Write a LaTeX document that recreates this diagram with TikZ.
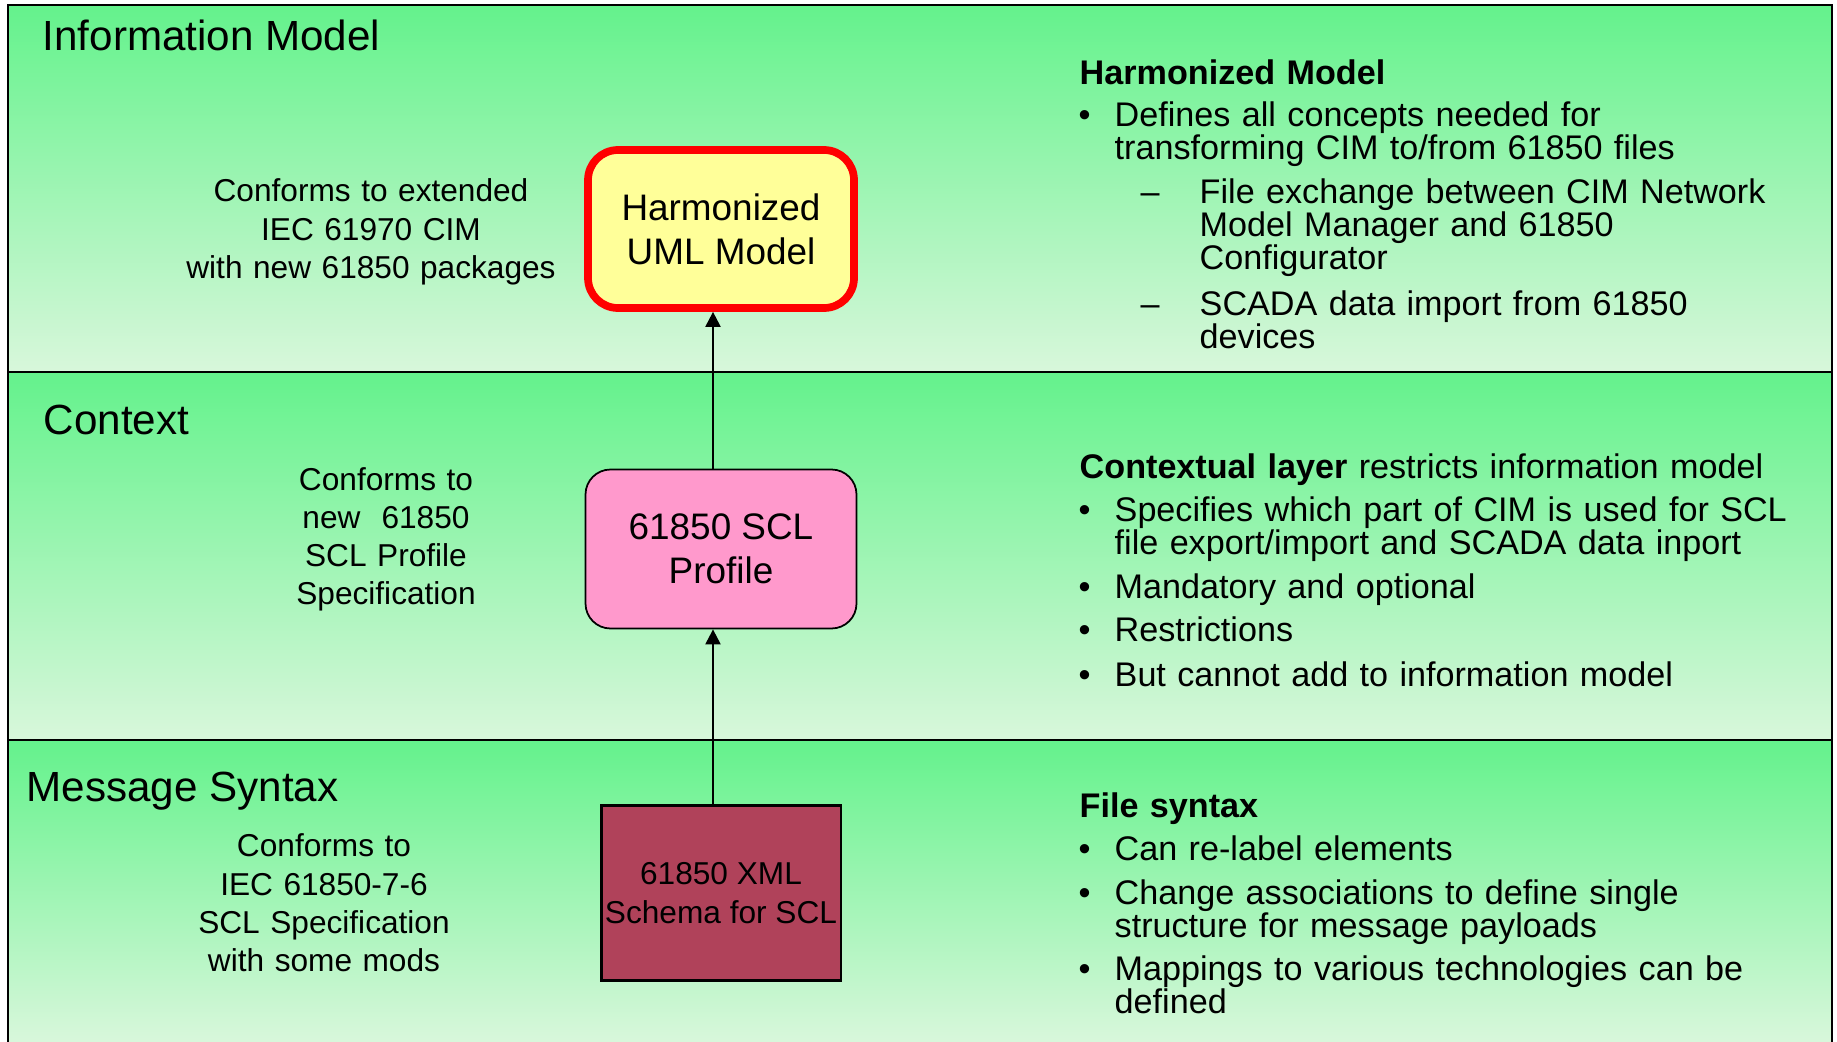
\documentclass[tikz,border=0pt]{standalone}
\usepackage{fontspec}
\setmainfont{Liberation Sans}
\usetikzlibrary{arrows.meta}

\definecolor{bandtop}{RGB}{100,242,140}
\definecolor{bandbot}{RGB}{216,247,219}
\definecolor{umlyellow}{RGB}{255,255,153}
\definecolor{sclpink}{RGB}{255,153,204}
\definecolor{xmlred}{RGB}{176,66,90}
\setlength{\lineskiplimit}{-5pt}

\begin{document}
\begin{tikzpicture}[x=0.1mm, y=-0.1mm,
    band/.style={top color=bandtop, bottom color=bandbot},
    frame/.style={line width=0.6pt},
    title/.style={font=\fontsize{12}{14}\selectfont, anchor=base west, inner sep=0pt},
    note/.style={font=\fontsize{9}{10.9}\selectfont, text width=4cm, align=center, anchor=base, inner sep=0pt},
    body/.style={font=\fontsize{9.72}{9.4}\selectfont, text width=7cm, align=left, anchor=base west, inner sep=0pt},
    bulletmark/.style={font=\fontsize{9.72}{9.4}\selectfont, anchor=base west, inner sep=0pt},
    head/.style={body, font=\fontsize{9.72}{9.4}\selectfont\bfseries},
    umlbox/.style={draw=red, line width=2.2pt, fill=umlyellow, rounded corners=3mm,
        minimum width=2.66cm, minimum height=1.58cm, align=center, font=\fontsize{10.5}{12.6}\selectfont},
    sclbox/.style={draw, line width=0.5pt, fill=sclpink, rounded corners=2.5mm,
        minimum width=2.71cm, minimum height=1.59cm, align=center, font=\fontsize{10.5}{12.6}\selectfont},
    xmlbox/.style={draw, line width=0.6pt, fill=xmlred, inner sep=1pt,
        minimum width=2.38cm, minimum height=1.75cm, align=center, font=\fontsize{9}{10.9}\selectfont},
    conn/.style={line width=0.6pt, -{Triangle[length=1.5mm, width=1.5mm]}}]

    \useasboundingbox (0,0) rectangle (1837,1041);

    % Bands
    \shade[band] (8,5) rectangle (1832,372);
    \shade[band] (8,372) rectangle (1832,740);
    \shade[band] (8,740) rectangle (1832,1041);
    \draw[frame] (8,1045) -- (8,5) -- (1832,5) -- (1832,1045);
    \draw[frame] (8,372) -- (1832,372);
    \draw[frame] (8,740) -- (1832,740);

    % Band titles
    \node[title] (tinfo) at (42,50.7) {Information Model};
    \node[title] (tctx) at (43,434) {Context};
    \node[title] (tmsg) at (26,801.7) {Message Syntax};

    % Conformance notes
    \node[note] (cinfo) at (371,201.7) {Conforms to extended\\IEC 61970 CIM\\with new 61850 packages};
    \node[note] (cctx) at (386,490) {Conforms to\\new\ \ 61850\\SCL Profile\\Specification};
    \node[note] (cmsg) at (324,856.7) {Conforms to\\IEC 61850-7-6\\SCL Specification\\with some mods};

    % Boxes
    \node[umlbox] (uml) at (721,229) {Harmonized\\UML Model};
    \node[sclbox] (scl) at (721,549) {61850 SCL\\Profile};
    \node[xmlbox] (xml) at (721,893) {61850 XML\\Schema for SCL};

    \draw[conn] ([xshift=-0.8mm]xml.north) -- ([xshift=-0.8mm]scl.south);
    \draw[conn] ([xshift=-0.8mm]scl.north) -- ([xshift=-0.8mm]uml.south);

    % Harmonized model text
    \node[head] (hm) at (1079,84.3) {Harmonized Model};
    \node[bulletmark] (hmb1) at (1078,126.7) {\textbullet};
    \node[body] (hm1) at (1114,126.7) {Defines all concepts needed for\\transforming CIM to/from 61850 files};
    \node[bulletmark] (hmd1) at (1140,203.3) {\textendash};
    \node[body] (hm2) at (1199,203.3) {File exchange between CIM Network\\Model Manager and 61850\\Configurator};
    \node[bulletmark] (hmd2) at (1140,315) {\textendash};
    \node[body] (hm3) at (1199,315) {SCADA data import from 61850\\devices};

    % Contextual layer text
    \node[body] (cl) at (1079,478.3) {\textbf{Contextual layer} restricts information model};
    \node[bulletmark] (clb1) at (1078,521.7) {\textbullet};
    \node[body] (cl1) at (1114,521.7) {Specifies which part of CIM is used for SCL\\file export/import and SCADA data inport};
    \node[bulletmark] (clb2) at (1078,598.3) {\textbullet};
    \node[body] (cl2) at (1114,598.3) {Mandatory and optional};
    \node[bulletmark] (clb3) at (1078,641.7) {\textbullet};
    \node[body] (cl3) at (1114,641.7) {Restrictions};
    \node[bulletmark] (clb4) at (1078,686.7) {\textbullet};
    \node[body] (cl4) at (1114,686.7) {But cannot add to information model};

    % File syntax text
    \node[head] (fs) at (1079,817.3) {File syntax};
    \node[bulletmark] (fsb1) at (1078,860.7) {\textbullet};
    \node[body] (fs1) at (1114,860.7) {Can re-label elements};
    \node[bulletmark] (fsb2) at (1078,904) {\textbullet};
    \node[body] (fs2) at (1114,904) {Change associations to define single\\structure for message payloads};
    \node[bulletmark] (fsb3) at (1078,980) {\textbullet};
    \node[body] (fs3) at (1114,980) {Mappings to various technologies can be\\defined};
\end{tikzpicture}
\end{document}
